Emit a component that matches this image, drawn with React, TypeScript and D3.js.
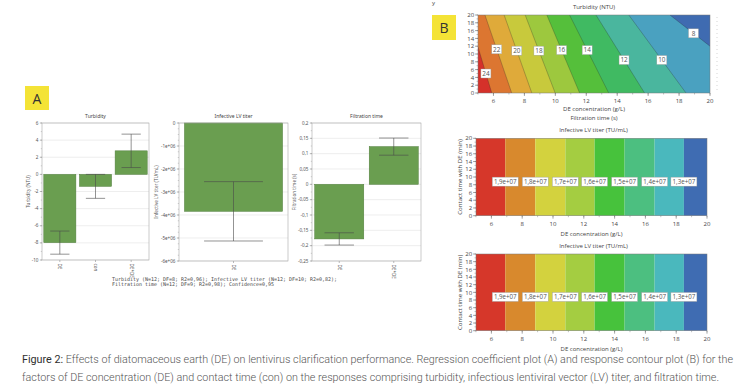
import React from "react";
import * as d3 from "d3";

// ---------- Panel A : regression coefficients ----------
const turbCats = ["DE", "con", "DE*DE"];
const turbCoef = [-7.97, -1.4, 2.75];
const turbErr = [1.35, 1.4, 1.95];
const turbTicks = [6, 4, 2, 0, -2, -4, -6, -8, -10];
const turbTickLabels = ["6", "4", "2", "0", "-2", "-4", "-6", "-8", "-10"];

const lvCats = ["DE"];
const lvCoef = [-3.84e6];
const lvErr = [1.29e6];
const lvTicks = [0, -1e6, -2e6, -3e6, -4e6, -5e6, -6e6];
const lvTickLabels = ["0", "-1e+06", "-2e+06", "-3e+06", "-4e+06", "-5e+06", "-6e+06"];

const ftCats = ["DE", "DE*DE"];
const ftCoef = [-0.178, 0.123];
const ftErr = [0.02, 0.028];
const ftTicks = [0.2, 0.15, 0.1, 0.05, 0, -0.05, -0.1, -0.15, -0.2, -0.25];
const ftTickLabels = ["0,2", "0,15", "0,1", "0,05", "0", "-0,05", "-0,1", "-0,15", "-0,2", "-0,25"];

const footLines = [
  "Turbidity (N=12; DF=8; R2=0,96); Infective LV titer (N=12; DF=10; R2=0,82);",
  "Filtration time (N=12; DF=9; R2=0,98); Confidence=0,95",
];

// ---------- Panel B : contour plots ----------
const deTicks = [6, 8, 10, 12, 14, 16, 18, 20];
const timeTicks = [0, 2, 4, 6, 8, 10, 12, 14, 16, 18, 20];

const turbLevels = ["24", "22", "20", "18", "16", "14", "12", "10", "8"];
const turbLines: number[][][] = [
  [[5, 11.8], [5.89, 0]],
  [[5.45, 20], [7.18, 0]],
  [[6.69, 20], [8.48, 0]],
  [[8.05, 20], [9.99, 0]],
  [[9.45, 20], [11.57, 0]],
  [[10.92, 20], [13.45, 0]],
  [[12.63, 20], [15.77, 0]],
  [[14.75, 20], [18.45, 0]],
  [[17.41, 20], [20, 12]],
];
const turbLabelY = [5.0, 11.2, 10.85, 10.85, 11.0, 11.0, 8.46, 8.46, 15.3];
const turbColors = [
  "#d5312a", "#dc7631", "#dfaa3a", "#c8c93c", "#9dc83e",
  "#55bf3b", "#40ba62", "#4ab69e", "#4aa1c0", "#3f6bb1",
];

const lvLevels = ["1,9e+07", "1,8e+07", "1,7e+07", "1,6e+07", "1,5e+07", "1,4e+07", "1,3e+07"];
const lvBounds = [6.9, 8.85, 10.8, 12.7, 14.65, 16.6, 18.5];
const lvLabelY = 8.8;
const lvColors = [
  "#d6372a", "#d8892d", "#d3d23e", "#a4cd41", "#47c23c", "#4cbf80", "#4ab8bd", "#3f6cb2",
];

const captionLines = [
  ["Figure 2:", " Effects of diatomaceous earth (DE) on lentivirus clarification performance. Regression coefficient plot (A) and response contour plot (B) for the"],
  ["", "factors of DE concentration (DE) and contact time (con) on the responses comprising turbidity, infectious lentiviral vector (LV) titer, and filtration time."],
];

const fontA = "'Noto Sans', 'DejaVu Sans', sans-serif";
const fontB = "'Open Sans', 'Noto Sans', sans-serif";

function CoefChart(props: any) {
  const { left, right, top, bottom, domain, cats, coef, err, ticks, tickLabels, minor, title, ylabel, ylabelX } = props;
  const y = d3.scaleLinear().domain(domain).range([bottom, top]);
  const x = d3.scaleBand<string>().domain(cats).range([left, right]).paddingInner(0.1).paddingOuter(0.05);
  const bw = x.bandwidth();
  const n = Math.round((domain[1] - domain[0]) / minor);
  const minorTicks = d3.range(n + 1).map((i) => domain[0] + i * minor);
  const fs = 4.6;
  return (
    <g>
      <text x={(left + right) / 2} y={top - 5} fontSize={5} textAnchor="middle" fill="#444" fontFamily={fontA}>{title}</text>
      {ticks.map((t: number, i: number) => (
        <line key={"g" + i} x1={left} x2={right} y1={y(t)} y2={y(t)} stroke="#e2e2e2" strokeWidth={0.6} />
      ))}
      {minorTicks.map((t: number, i: number) => (
        <line key={"m" + i} x1={left - 1.2} x2={left} y1={y(t)} y2={y(t)} stroke="#888" strokeWidth={0.4} />
      ))}
      {ticks.map((t: number, i: number) => (
        <g key={"t" + i}>
          <line x1={left - 2.2} x2={left} y1={y(t)} y2={y(t)} stroke="#777" strokeWidth={0.5} />
          <text x={left - 3.5} y={y(t)} dy="0.35em" fontSize={fs} textAnchor="end" fill="#555" fontFamily={fontA}>{tickLabels[i]}</text>
        </g>
      ))}
      {cats.map((c: string, i: number) => {
        const v = coef[i];
        const e = err[i];
        const cx = (x(c) as number) + bw / 2;
        return (
          <g key={c}>
            <rect x={x(c)} width={bw} y={Math.min(y(v), y(0))} height={Math.abs(y(v) - y(0))} fill="#6a9e50" stroke="#4f7d3a" strokeWidth={0.5} />
            <line x1={cx} x2={cx} y1={y(v - e)} y2={y(v + e)} stroke="#4a4a4a" strokeWidth={0.6} />
            <line x1={cx - bw * 0.3} x2={cx + bw * 0.3} y1={y(v - e)} y2={y(v - e)} stroke="#4a4a4a" strokeWidth={0.6} />
            <line x1={cx - bw * 0.3} x2={cx + bw * 0.3} y1={y(v + e)} y2={y(v + e)} stroke="#4a4a4a" strokeWidth={0.6} />
            <line x1={cx} x2={cx} y1={bottom} y2={bottom + 2} stroke="#777" strokeWidth={0.5} />
            <text transform={`translate(${cx},${bottom + 3.5}) rotate(90)`} fontSize={fs} dy="0.35em" fill="#555" fontFamily={fontA}>{c}</text>
          </g>
        );
      })}
      <rect x={left} y={top} width={right - left} height={bottom - top} fill="none" stroke="#a8a8a8" strokeWidth={0.6} />
      <text transform={`translate(${ylabelX},${(top + bottom) / 2}) rotate(-90)`} fontSize={fs} textAnchor="middle" fill="#555" fontFamily={fontA}>{ylabel}</text>
    </g>
  );
}

function Axes(props: any) {
  const { x, y, left, right, top, bottom } = props;
  const fs = 6;
  const minorX = d3.range(5, 20.01, 1);
  const minorY = d3.range(0, 20.01, 1);
  return (
    <g fontFamily={fontB} fill="#444">
      <rect x={left} y={top} width={right - left} height={bottom - top} fill="none" stroke="#777" strokeWidth={0.5} />
      {minorX.map((t: number) => (
        <line key={"mx" + t} x1={x(t)} x2={x(t)} y1={bottom} y2={bottom + 1.5} stroke="#666" strokeWidth={0.4} />
      ))}
      {minorY.map((t: number) => (
        <line key={"my" + t} x1={left - 1.5} x2={left} y1={y(t)} y2={y(t)} stroke="#666" strokeWidth={0.4} />
      ))}
      {deTicks.map((t) => (
        <g key={"x" + t}>
          <line x1={x(t)} x2={x(t)} y1={bottom} y2={bottom + 3} stroke="#555" strokeWidth={0.5} />
          <text x={x(t)} y={bottom + 10} fontSize={fs} textAnchor="middle">{t}</text>
        </g>
      ))}
      {timeTicks.map((t) => (
        <g key={"y" + t}>
          <line x1={left - 3} x2={left} y1={y(t)} y2={y(t)} stroke="#555" strokeWidth={0.5} />
          <text x={left - 3.8} y={y(t)} dy="0.36em" fontSize={fs} textAnchor="end">{t}</text>
        </g>
      ))}
    </g>
  );
}

function xOnLine(line: number[][], yv: number) {
  for (let i = 0; i < line.length - 1; i++) {
    const [x0, y0] = line[i];
    const [x1, y1] = line[i + 1];
    if ((yv - y0) * (yv - y1) <= 0) {
      const f = (yv - y0) / (y1 - y0);
      return x0 + f * (x1 - x0);
    }
  }
  return line[0][0];
}

function TurbidityContour() {
  const left = 478, right = 710, top = 15, bottom = 93;
  const x = d3.scaleLinear().domain([5, 20]).range([left, right]);
  const y = d3.scaleLinear().domain([0, 20]).range([bottom, top]);
  const lineGen = d3.line<number[]>().x((d) => x(d[0])).y((d) => y(d[1]));
  return (
    <g>
      <defs>
        <clipPath id="clipTurb">
          <rect x={left} y={top} width={right - left} height={bottom - top} />
        </clipPath>
      </defs>
      <text x={(left + right) / 2} y={9} fontSize={6} textAnchor="middle" fill="#444" fontFamily={fontB}>Turbidity (NTU)</text>
      <g clipPath="url(#clipTurb)">
        <rect x={left} y={top} width={right - left} height={bottom - top} fill={turbColors[0]} />
        {turbLines.map((ln, i) => {
          const poly = [...ln, [ln[ln.length - 1][0], -100], [100, -100], [100, 100], [ln[0][0], 100]];
          return <path key={"p" + i} d={lineGen(poly) + "Z"} fill={turbColors[i + 1]} />;
        })}
        {turbLines.map((ln, i) => (
          <path key={"l" + i} d={lineGen(ln) as string} fill="none" stroke="rgba(40,40,40,0.55)" strokeWidth={0.5} />
        ))}
      </g>
      <Axes x={x} y={y} left={left} right={right} top={top} bottom={bottom} />
      <line x1={717} x2={717} y1={top + 2} y2={bottom} stroke="#bbb" strokeWidth={0.6} strokeDasharray="1,3" />
      {turbLevels.map((lv, i) => {
        const ly = turbLabelY[i];
        const lx = xOnLine(turbLines[i], ly);
        return (
          <g key={"lab" + i}>
            <rect x={x(lx) - 5} y={y(ly) - 4.5} width={10} height={9} fill="#fff" stroke="#9a9a9a" strokeWidth={0.4} />
            <text x={x(lx)} y={y(ly)} dy="0.36em" fontSize={6.4} textAnchor="middle" fill="#555" fontFamily={fontB}>{lv}</text>
          </g>
        );
      })}
      <text x={(left + right) / 2} y={111} fontSize={6} textAnchor="middle" fill="#444" fontFamily={fontB}>DE concentration (g/L)</text>
      <text x={(left + right) / 2} y={119.5} fontSize={6} textAnchor="middle" fill="#444" fontFamily={fontB}>Filtration time (s)</text>
    </g>
  );
}

function TiterContour(props: any) {
  const { top, bottom, titleY, xlabelY } = props;
  const left = 476, right = 707;
  const x = d3.scaleLinear().domain([5, 20]).range([left, right]);
  const y = d3.scaleLinear().domain([0, 20]).range([bottom, top]);
  const edges = [5, ...lvBounds, 20];
  return (
    <g>
      <text x={(left + right) / 2 + 2} y={titleY} fontSize={6} textAnchor="middle" fill="#444" fontFamily={fontB}>Infective LV titer (TU/mL)</text>
      {lvColors.map((c, i) => (
        <rect key={"b" + i} x={x(edges[i])} y={top} width={x(edges[i + 1]) - x(edges[i])} height={bottom - top} fill={c} />
      ))}
      <Axes x={x} y={y} left={left} right={right} top={top} bottom={bottom} />
      {lvLevels.map((lv, i) => (
        <g key={"ll" + i}>
          <rect x={x(lvBounds[i]) - 13} y={y(lvLabelY) - 4.5} width={26} height={9} fill="#fff" stroke="#9a9a9a" strokeWidth={0.4} />
          <text x={x(lvBounds[i])} y={y(lvLabelY)} dy="0.36em" fontSize={6.2} textAnchor="middle" fill="#555" fontFamily={fontB}>{lv}</text>
        </g>
      ))}
      <text transform={`translate(${461.5},${(top + bottom) / 2}) rotate(-90)`} fontSize={6.1} textAnchor="middle" fill="#444" fontFamily={fontB}>Contact time with DE (min)</text>
      <text x={(left + right) / 2} y={xlabelY} fontSize={6} textAnchor="middle" fill="#444" fontFamily={fontB}>DE concentration (g/L)</text>
    </g>
  );
}

export default function App() {
  return (
    <svg width={740} height={390} viewBox="0 0 740 390" style={{ position: "absolute", left: 0, top: 0, background: "#fff" }}>
      <rect width={740} height={390} fill="#fff" />
      {/* Panel A */}
      <rect x={25} y={86} width={24} height={24} fill="#f4e336" />
      <text x={37} y={103.5} fontSize={14} textAnchor="middle" fill="#333" fontFamily={fontB}>A</text>
      <CoefChart left={42} right={149} top={123} bottom={260} domain={[-10, 6]} cats={turbCats} coef={turbCoef} err={turbErr}
        ticks={turbTicks} tickLabels={turbTickLabels} minor={1} title="Turbidity" ylabel="Turbidity (NTU)" ylabelX={29.5} />
      <CoefChart left={179} right={288} top={123} bottom={261} domain={[-6e6, 0]} cats={lvCats} coef={lvCoef} err={lvErr}
        ticks={lvTicks} tickLabels={lvTickLabels} minor={2.5e5} title="Infective LV titer" ylabel="Infective LV titer (TU/mL)" ylabelX={157.5} />
      <CoefChart left={312} right={421} top={123} bottom={261} domain={[-0.25, 0.2]} cats={ftCats} coef={ftCoef} err={ftErr}
        ticks={ftTicks} tickLabels={ftTickLabels} minor={0.025} title="Filtration time" ylabel="Filtration time (s)" ylabelX={295.5} />
      {footLines.map((t, i) => (
        <text key={"f" + i} x={112} y={281.2 + i * 5} fontSize={5} fill="#444" fontFamily="'DejaVu Sans Mono', monospace"
          textLength={t.length * 3} lengthAdjust="spacingAndGlyphs">{t}</text>
      ))}
      {/* Panel B */}
      <text x={432} y={4.5} fontSize={6} fill="#444" fontFamily={fontB}>y</text>
      <rect x={432} y={15} width={24} height={25} fill="#f4e336" />
      <text x={444} y={33} fontSize={14} textAnchor="middle" fill="#333" fontFamily={fontB}>B</text>
      <TurbidityContour />
      <TiterContour top={138.3} bottom={215.7} titleY={131.5} xlabelY={235.5} />
      <TiterContour top={254} bottom={330.7} titleY={248.2} xlabelY={350.5} />
      {/* Caption */}
      {captionLines.map((ln, i) => (
        <text key={"c" + i} x={22} y={362.5 + i * 18} fontSize={10} fontFamily="Roboto, 'Noto Sans', sans-serif" fontWeight={300}
          textLength={i === 0 ? 711 : 697} lengthAdjust="spacingAndGlyphs">
          {ln[0] ? <tspan fill="#2e2e2e" fontWeight={400}>{ln[0]}</tspan> : null}
          <tspan fill="#555">{ln[1]}</tspan>
        </text>
      ))}
    </svg>
  );
}
